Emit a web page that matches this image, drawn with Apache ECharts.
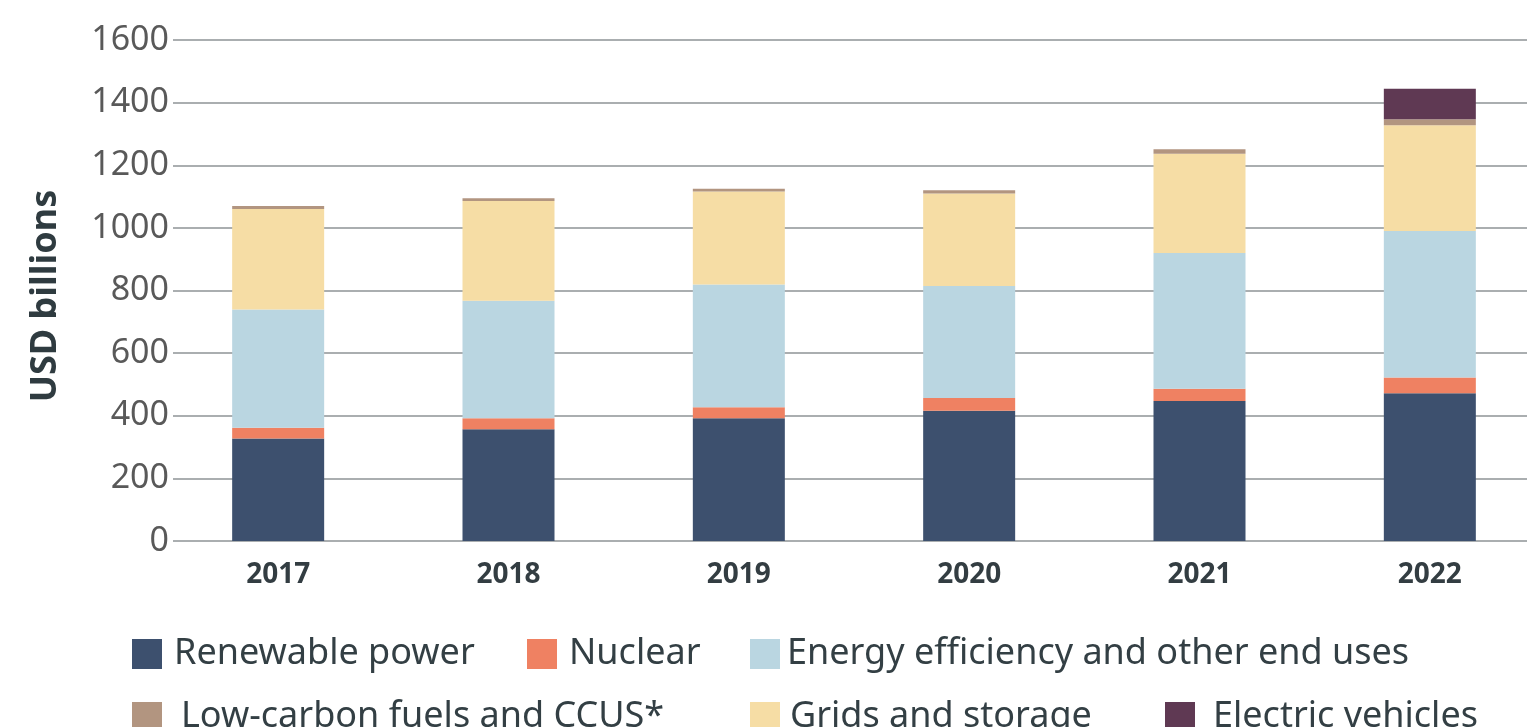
<!DOCTYPE html>
<html>
<head>
<meta charset="utf-8">
<script src="https://cdn.jsdelivr.net/npm/echarts@6/dist/echarts.min.js"></script>
<style>
html,body{margin:0;padding:0;background:#fff;}
#chart{width:1527px;height:727px;}
</style>
</head>
<body>
<div id="chart"></div>
<script>
const years = ['2017','2018','2019','2020','2021','2022'];
const renewable = [327, 357, 392, 416, 447, 472];
const nuclear = [35, 35, 35, 41, 39, 50];
const efficiency = [377, 375, 392, 357, 434, 468];
const grids = [321, 319, 297, 296, 317, 338];
const lowCarbon = [10, 9, 9, 10, 14, 19];
const ev = [0, 0, 0, 0, 0, 97];
const yTicks = [0, 200, 400, 600, 800, 1000, 1200, 1400, 1600];

const FONT = 'Noto Sans';
const chart = echarts.init(document.getElementById('chart'));

const colors = {
  'Renewable power': '#3d506e',
  'Nuclear': '#ef8162',
  'Energy efficiency and other end uses': '#bad6e1',
  'Low-carbon fuels and CCUS*': '#b29580',
  'Grids and storage': '#f6dda5',
  'Electric vehicles': '#5f3953'
};

function bar(name, data) {
  return {
    name: name, type: 'bar', stack: 'total', xAxisIndex: 0, yAxisIndex: 0,
    barWidth: 92, data: data, itemStyle: {color: colors[name]},
    emphasis: {disabled: true}
  };
}

function legend(name, left, top, gap) {
  return {
    data: [name], left: left, top: top, icon: 'rect', padding: 0,
    itemWidth: 30, itemHeight: 30, selectedMode: false,
    textStyle: {fontFamily: FONT, fontSize: 36, color: '#333f44', lineHeight: 30, padding: [0, 0, 0, gap]}
  };
}

chart.setOption({
  animation: false,
  grid: [
    {left: 163, width: 1382, top: 40, bottom: 186, outerBoundsMode: 'none', containLabel: false},
    {left: 173, right: 0, top: 40, bottom: 186, outerBoundsMode: 'none'}
  ],
  xAxis: [
    {
      type: 'category', data: years, gridIndex: 0,
      axisLine: {show: false}, axisTick: {show: false},
      axisLabel: {fontFamily: FONT, fontSize: 28, fontWeight: 'bold', color: '#333d42', margin: 20}
    },
    {type: 'value', gridIndex: 1, show: false, min: 0, max: 1}
  ],
  yAxis: [
    {type: 'value', gridIndex: 0, min: 0, max: 1600, interval: 200, show: false},
    {
      type: 'value', gridIndex: 1, min: yTicks[0], max: yTicks[yTicks.length - 1], interval: 200,
      axisLine: {show: false}, axisTick: {show: false},
      splitLine: {lineStyle: {color: '#8e9396', width: 1.5}},
      axisLabel: {fontFamily: FONT, fontSize: 34, color: '#595959', margin: 4, padding: [0, 0, 5, 0],
        formatter: v => String(v)}
    }
  ],
  legend: [
    legend('Renewable power', 132, 636, 7),
    legend('Nuclear', 527, 636, 7),
    legend('Energy efficiency and other end uses', 750, 636, 2),
    legend('Low-carbon fuels and CCUS*', 132, 699, 14),
    legend('Grids and storage', 750, 699, 5),
    legend('Electric vehicles', 1165, 699, 13)
  ],
  graphic: [{
    type: 'text', x: 46, y: 296, rotation: Math.PI / 2,
    style: {text: 'USD billions', fontFamily: FONT, fontSize: 36, fontWeight: 'bold', fill: '#2f3b40', align: 'center', verticalAlign: 'middle'}
  }],
  series: [
    {type: 'line', xAxisIndex: 1, yAxisIndex: 1, data: [], silent: true},
    bar('Renewable power', renewable),
    bar('Nuclear', nuclear),
    bar('Energy efficiency and other end uses', efficiency),
    bar('Grids and storage', grids),
    bar('Low-carbon fuels and CCUS*', lowCarbon),
    bar('Electric vehicles', ev)
  ]
});
</script>
</body>
</html>
